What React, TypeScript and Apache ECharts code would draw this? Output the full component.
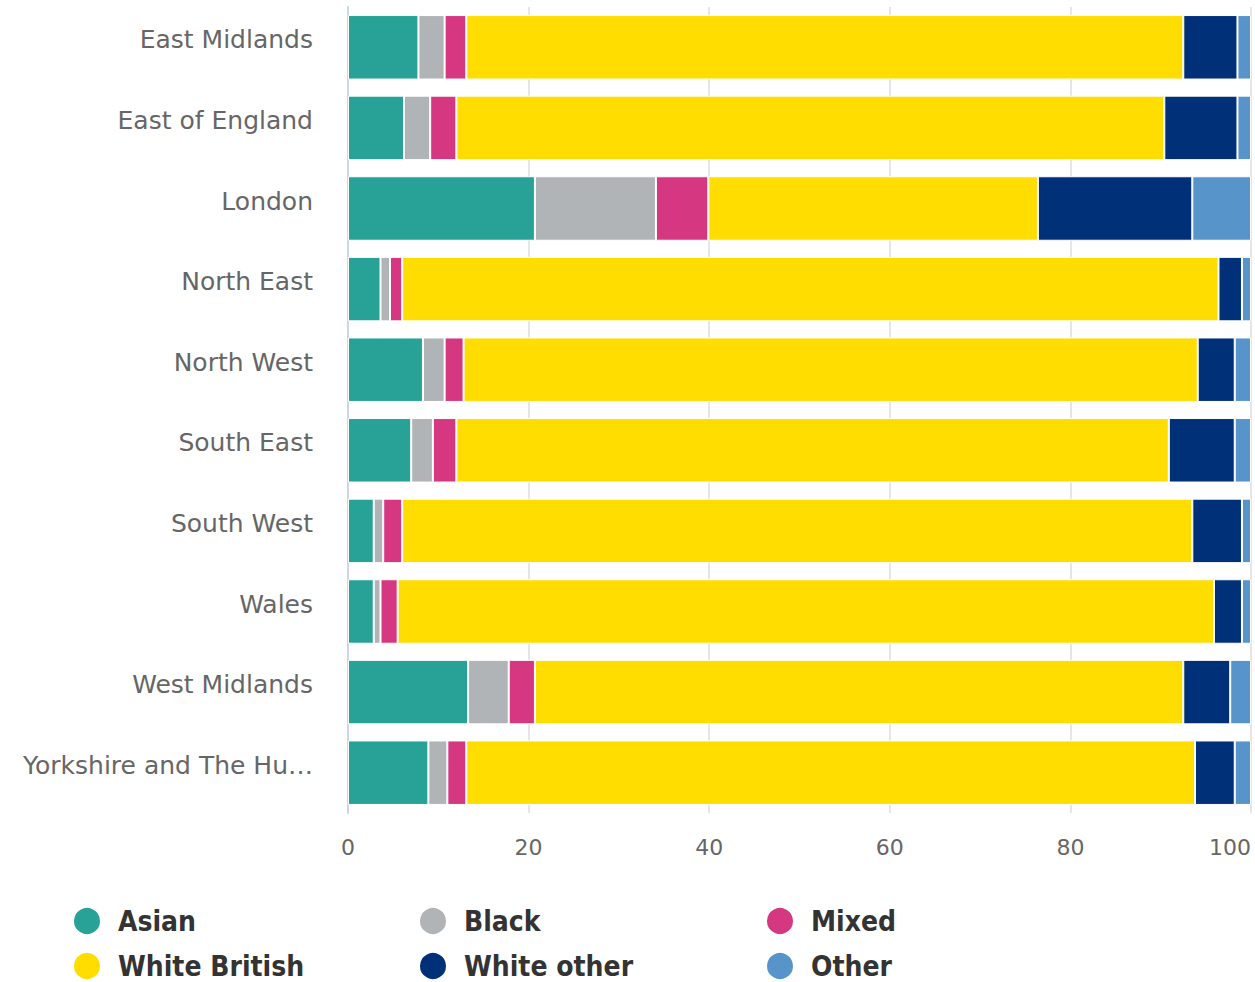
import React, { useEffect, useRef } from "react";
import * as echarts from "echarts";

const regions = [
  "East Midlands",
  "East of England",
  "London",
  "North East",
  "North West",
  "South East",
  "South West",
  "Wales",
  "West Midlands",
  "Yorkshire and The Humber",
];

const asian = [7.8, 6.2, 20.7, 3.6, 8.3, 7.0, 2.85, 2.85, 13.3, 8.9];
const black = [2.9, 2.9, 13.4, 1.05, 2.4, 2.4, 1.05, 0.75, 4.5, 2.1];
const mixed = [2.4, 2.9, 5.8, 1.35, 2.1, 2.6, 2.1, 1.9, 2.9, 2.1];
const whiteBritish = [79.4, 78.4, 36.5, 90.4, 81.3, 78.9, 87.5, 90.4, 71.8, 80.7];
const whiteOther = [6.0, 8.1, 17.1, 2.6, 4.1, 7.3, 5.5, 3.1, 5.2, 4.4];
const other = [1.5, 1.5, 6.5, 1.0, 1.8, 1.8, 1.0, 1.0, 2.3, 1.8];

const xTicks = [0, 20, 40, 60, 80, 100];

const seriesDefs = [
  { name: "Asian", data: asian, color: "#28a197" },
  { name: "Black", data: black, color: "#b1b4b6" },
  { name: "Mixed", data: mixed, color: "#d53880" },
  { name: "White British", data: whiteBritish, color: "#ffdd00" },
  { name: "White other", data: whiteOther, color: "#003078" },
  { name: "Other", data: other, color: "#5694ca" },
];

const FONT = "'DejaVu Sans', sans-serif";
const LEGEND_FONT = "'DejaVu Sans Condensed', 'DejaVu Sans', sans-serif";

const legendCols = [72, 418, 765];
const legendRows = [906, 951];

export default function App() {
  const ref = useRef<HTMLDivElement>(null);

  useEffect(() => {
    if (!ref.current) return;
    const chart = echarts.init(ref.current, null, { renderer: "svg" });
    const legends = seriesDefs.map((s, i) => ({
      left: legendCols[i % 3],
      top: legendRows[Math.floor(i / 3)],
      itemWidth: 28,
      itemHeight: 28,
      icon: "circle",
      padding: 0,
      textStyle: {
        fontFamily: LEGEND_FONT,
        fontSize: 28,
        fontWeight: "bold",
        color: "#333333",
        padding: [0, 0, 0, 12],
      },
      data: [s.name],
    }));
    chart.setOption({
      animation: false,
      textStyle: { fontFamily: FONT },
      grid: { left: 348, right: 4, top: 7, bottom: 169, containLabel: false },
      legend: legends,
      xAxis: {
        type: "value",
        min: xTicks[0],
        max: xTicks[xTicks.length - 1],
        interval: xTicks[1] - xTicks[0],
        axisLine: { show: false },
        axisTick: { show: false },
        axisLabel: {
          color: "#666666",
          fontSize: 22,
          margin: 23,
          fontFamily: FONT,
          alignMaxLabel: "right",
        },
        splitLine: { show: true, lineStyle: { color: "#e6e6e6", width: 2 } },
      },
      yAxis: {
        type: "category",
        inverse: true,
        data: regions,
        axisTick: { show: false },
        axisLine: { show: true, lineStyle: { color: "#ccd6eb", width: 2 } },
        axisLabel: {
          color: "#666666",
          fontSize: 25,
          margin: 35,
          fontFamily: FONT,
          width: 302,
          overflow: "truncate",
          ellipsis: "…",
          verticalAlign: "bottom",
          lineHeight: 15,
        },
      },
      series: seriesDefs.map((s) => ({
        name: s.name,
        type: "bar",
        stack: "total",
        data: s.data,
        barCategoryGap: "20%",
        itemStyle: { color: s.color, borderColor: "#ffffff", borderWidth: 1 },
      })),
    });
    return () => chart.dispose();
  }, []);

  return (
    <div
      ref={ref}
      style={{ position: "absolute", left: 0, top: 0, width: 1255, height: 982 }}
    />
  );
}
